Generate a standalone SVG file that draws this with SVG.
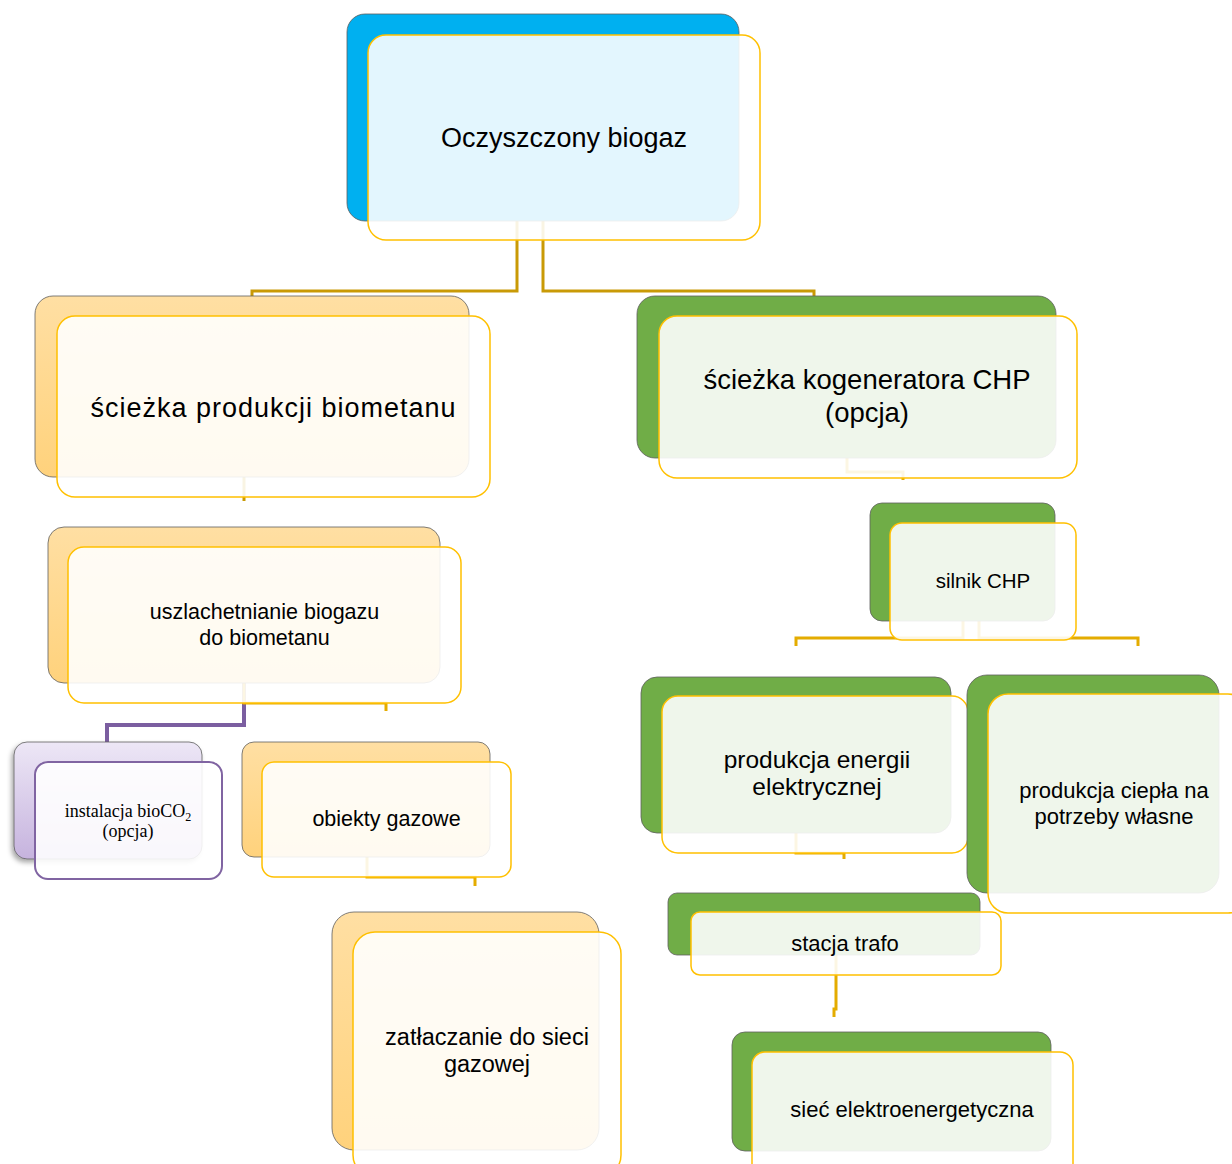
<svg xmlns="http://www.w3.org/2000/svg" width="1232" height="1164" viewBox="0 0 1232 1164">
<defs>
<linearGradient id="gOr" x1="0" y1="0" x2="0" y2="1"><stop offset="0" stop-color="#FFDFA3"/><stop offset="1" stop-color="#FFD27C"/></linearGradient>
<linearGradient id="gPu" x1="0" y1="0" x2="0" y2="1"><stop offset="0" stop-color="#EDE7F6"/><stop offset="1" stop-color="#C6B3DE"/></linearGradient>
<filter id="sh" x="-20%" y="-20%" width="140%" height="150%"><feDropShadow dx="-2" dy="3" stdDeviation="2.5" flood-color="#000" flood-opacity="0.35"/></filter>
<style>
.back{stroke:#5f5f5f;stroke-width:1;stroke-opacity:0.8}
.blue{fill:#00B0F0}
.green{fill:#70AD47}
.orange{fill:url(#gOr)}
.purple{fill:url(#gPu);filter:url(#sh)}
.front{fill:#FFFFFF;fill-opacity:0.89;stroke:#FFC000;stroke-width:1.5}
.frontP{fill:#FFFFFF;fill-opacity:0.89;stroke:#8064A2;stroke-width:2}
.t{font-family:"Liberation Sans",Arial,sans-serif;fill:#000;text-anchor:middle}
.ts{font-family:"Liberation Serif","Times New Roman",serif;fill:#000;text-anchor:middle}
.c1{fill:none;stroke:#C99A06;stroke-width:3}
.c2{fill:none;stroke:#E4AC00;stroke-width:3}
.cp{fill:none;stroke:#7B5EA0;stroke-width:4}
</style>
</defs>
<rect width="1232" height="1164" fill="#FFFFFF"/>
<g id="connectors">
<path class="c1" d="M517,221 V291 H252 V297"/>
<path class="c1" d="M543,221 V291 H814 V297"/>
<path class="c1" d="M244,477 V501"/>
<path class="c2" d="M847,458 V472 H903 V480"/>
<path class="cp" d="M244,683 V725 H107 V743"/>
<path class="c2" d="M244,683 V703 H386 V711"/>
<path class="c2" d="M367,857 V877 H475 V886"/>
<path class="c2" d="M963,621 V638 H796 V646"/>
<path class="c2" d="M979,621 V638 H1138 V646"/>
<path class="c2" d="M796,833 V853 H844 V859"/>
<path class="c2" d="M836,955 V1009 H834 V1017"/>
</g>
<g id="node-biogaz">
<rect class="back blue" x="347" y="14" width="392" height="207" rx="18"/>
<rect class="front" x="368" y="35" width="392" height="205" rx="18"/>
<text class="t" x="564" y="147" font-size="27">Oczyszczony biogaz</text>
</g>
<g id="node-biometan">
<rect class="back orange" x="35" y="296" width="434" height="181" rx="18"/>
<rect class="front" x="57" y="316" width="433" height="181" rx="18"/>
<text class="t" x="273" y="417" font-size="27" textLength="365" lengthAdjust="spacing">ścieżka produkcji biometanu</text>
</g>
<g id="node-chp">
<rect class="back green" x="637" y="296" width="419" height="162" rx="18"/>
<rect class="front" x="659" y="316" width="418" height="162" rx="18"/>
<text class="t" x="867" y="389" font-size="27.5">ścieżka kogeneratora CHP</text>
<text class="t" x="867" y="422" font-size="27.5">(opcja)</text>
</g>
<g id="node-uszlachetnianie">
<rect class="back orange" x="48" y="527" width="392" height="156" rx="16"/>
<rect class="front" x="68" y="547" width="393" height="156" rx="16"/>
<text class="t" x="264.5" y="619" font-size="21.5">uszlachetnianie biogazu</text>
<text class="t" x="264.5" y="645" font-size="21.5">do biometanu</text>
</g>
<g id="node-bioco2">
<rect class="back purple" x="14" y="742" width="188" height="117" rx="13"/>
<rect class="frontP" x="35" y="762" width="187" height="117" rx="13"/>
<text class="ts" x="128" y="817" font-size="18">instalacja bioCO<tspan font-size="12" dy="4">2</tspan></text>
<text class="ts" x="128" y="837" font-size="18">(opcja)</text>
</g>
<g id="node-obiekty">
<rect class="back orange" x="242" y="742" width="248" height="115" rx="12"/>
<rect class="front" x="262" y="762" width="249" height="115" rx="12"/>
<text class="t" x="386.5" y="826" font-size="21.5">obiekty gazowe</text>
</g>
<g id="node-zatlaczanie">
<rect class="back orange" x="332" y="912" width="267" height="238" rx="22"/>
<rect class="front" x="353" y="932" width="268" height="245" rx="22"/>
<text class="t" x="487" y="1045" font-size="23.5">zatłaczanie do sieci</text>
<text class="t" x="487" y="1072" font-size="23.5">gazowej</text>
</g>
<g id="node-silnik">
<rect class="back green" x="870" y="503" width="185" height="118" rx="12"/>
<rect class="front" x="890" y="523" width="186" height="117" rx="12"/>
<text class="t" x="983" y="588" font-size="20.5">silnik CHP</text>
</g>
<g id="node-energia">
<rect class="back green" x="641" y="677" width="310" height="156" rx="16"/>
<rect class="front" x="662" y="696" width="306" height="157" rx="16"/>
<text class="t" x="817" y="768" font-size="24.5">produkcja energii</text>
<text class="t" x="817" y="795" font-size="24.5">elektrycznej</text>
</g>
<g id="node-cieplo">
<rect class="back green" x="967" y="675" width="252" height="218" rx="20"/>
<rect class="front" x="988" y="694" width="260" height="219" rx="20"/>
<text class="t" x="1114" y="798" font-size="22">produkcja ciepła na</text>
<text class="t" x="1114" y="824" font-size="22">potrzeby własne</text>
</g>
<g id="node-trafo">
<rect class="back green" x="668" y="893" width="312" height="62" rx="9"/>
<rect class="front" x="691" y="912" width="310" height="63" rx="9"/>
<text class="t" x="845" y="951" font-size="22">stacja trafo</text>
</g>
<g id="node-siec">
<rect class="back green" x="732" y="1032" width="319" height="119" rx="13"/>
<rect class="front" x="752" y="1052" width="321" height="125" rx="13"/>
<text class="t" x="912" y="1117" font-size="22">sieć elektroenergetyczna</text>
</g>
</svg>
